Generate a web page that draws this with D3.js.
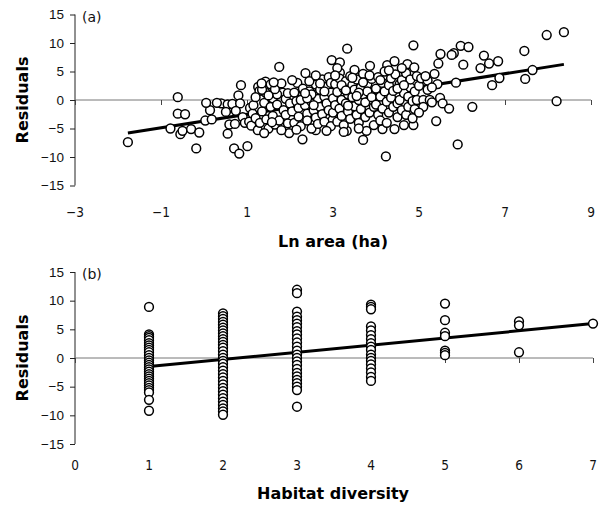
<!DOCTYPE html>
<html><head><meta charset="utf-8">
<script src="https://cdn.jsdelivr.net/npm/d3@7"></script>
<style>body{margin:0;background:#fff}</style>
</head><body>
<script>
// Panel (a): Ln area (ha) vs residuals
const areaPoints = [
[-1.77,-7.4],[-0.61,0.5],[-0.61,-2.4],[-0.44,-2.5],[-0.78,-5.0],[-0.55,-6.0],[-0.5,-5.4],[-0.3,-5.1],[-0.11,-5.7],[-0.18,-8.5],
[0.03,-3.6],[0.14,-1.8],[0.05,-0.5],[0.4,-0.6],[0.55,-0.75],[0.66,-0.7],[0.18,-3.4],[0.51,-2.1],[0.55,-5.9],[0.7,-8.5],
[0.82,-9.4],[0.8,0.8],[0.84,-0.6],[0.59,-4.3],[0.72,-4.2],[0.74,-1.9],[0.86,2.6],[0.3,-0.5],[0.9,-3.0],[0.95,-4.0],
[1.01,-8.1],[1.07,-1.4],[1.13,-2.4],[1.26,2.3],[1.43,3.2],[1.55,2.75],[1.29,1.6],[1.43,1.3],[1.83,1.3],[1.75,5.8],[1.98,-5.8],
[1.05,-3.8],[1.1,-4.5],[1.15,-0.9],[1.2,-3.2],[1.25,-5.3],[1.3,-4.0],[1.35,-2.0],[1.4,-0.5],[1.45,-3.4],[1.5,-5.0],
[1.55,-1.2],[1.6,0.3],[1.6,-2.8],[1.65,-4.3],[1.7,1.0],[1.7,-0.8],[1.75,-3.6],[1.8,-5.3],[1.85,-1.8],[1.9,0.2],
[1.9,-2.6],[1.95,-4.1],[1.2,0.5],[1.35,1.8],[1.5,0.8],[1.65,1.9],[1.8,2.9],[1.95,1.2],[1.4,-5.8],[1.58,-3.9],
[1.34,2.9],[1.62,3.1],
[2.17,3.0],[2.36,4.7],[2.29,-6.9],[2.6,-5.3],[2.97,7.0],[2.99,-3.5],
[2.0,-0.6],[2.05,-2.0],[2.1,1.3],[2.1,-4.0],[2.15,-0.2],[2.2,-1.4],[2.2,-2.9],[2.25,-4.6],[2.3,0.8],[2.3,2.0],
[2.35,-0.9],[2.4,-2.4],[2.4,-3.6],[2.45,1.5],[2.5,-0.3],[2.5,-5.0],[2.55,0.9],[2.55,-1.8],[2.6,2.7],[2.6,-3.1],
[2.65,0.2],[2.65,-4.2],[2.7,1.8],[2.7,-1.2],[2.75,3.6],[2.75,-2.5],[2.8,0.6],[2.8,-3.8],[2.85,2.3],[2.85,-0.6],
[2.9,4.0],[2.9,-1.8],[2.95,1.3],[2.95,-4.6],[2.05,3.5],[2.45,3.3],[2.25,0.0],[2.6,4.3],[2.85,-5.4],[2.15,-5.2],[2.5,1.0],[2.8,1.5],
[2.4,0.3],[2.7,2.9],[2.55,-0.9],[2.95,3.0],[2.35,1.2],
[3.33,9.0],[3.16,6.6],[3.16,4.8],[3.32,-5.4],[3.7,-7.0],[3.78,-5.4],[3.86,6.0],
[3.0,0.3],[3.0,-2.2],[3.05,2.8],[3.05,-0.9],[3.1,1.4],[3.1,-3.8],[3.15,3.8],[3.15,-1.5],[3.2,0.0],[3.2,-2.8],
[3.25,2.0],[3.25,-4.4],[3.3,3.3],[3.3,-0.6],[3.35,1.0],[3.35,-2.0],[3.4,4.2],[3.4,-3.3],[3.45,0.5],[3.45,2.6],
[3.5,-1.1],[3.5,1.8],[3.55,3.6],[3.55,-2.6],[3.6,0.0],[3.6,-4.0],[3.65,2.2],[3.65,-1.6],[3.7,1.0],[3.7,4.6],
[3.75,-0.4],[3.75,-3.0],[3.8,2.8],[3.8,1.5],[3.85,-2.2],[3.9,0.5],[3.9,3.7],[3.95,-1.2],[3.95,-4.4],[3.1,5.6],
[3.25,-5.6],[3.5,5.3],[3.6,-5.0],[3.35,-1.0],
[3.2,2.6],[3.45,3.9],[3.6,1.3],[3.3,1.7],[3.85,4.3],[3.05,4.3],[3.7,3.1],[3.55,0.7],
[4.23,-9.9],[4.26,6.1],[4.43,6.8],[4.73,6.3],[4.89,5.7],[4.87,9.6],[4.43,-5.1],[4.15,-5.1],[4.87,-4.4],[4.65,-4.4],
[4.0,2.0],[4.0,-0.8],[4.05,4.0],[4.05,-2.6],[4.1,0.6],[4.1,-3.6],[4.15,3.0],[4.15,-1.5],[4.2,1.5],[4.2,5.0],
[4.25,-0.3],[4.3,2.6],[4.3,-2.2],[4.35,3.8],[4.35,0.4],[4.4,-1.2],[4.4,1.6],[4.45,4.5],[4.5,-0.6],[4.5,-3.0],
[4.55,2.8],[4.55,0.0],[4.6,3.5],[4.6,-1.8],[4.65,1.2],[4.7,4.7],[4.7,-2.6],[4.75,0.6],[4.75,-1.2],[4.8,2.2],
[4.8,3.6],[4.85,-0.2],[4.9,1.5],[4.9,-1.6],[4.95,4.2],[4.95,0.0],[4.25,-4.0],[4.6,5.6],[4.85,-3.2],
[4.1,3.5],[4.5,2.0],[4.3,5.2],[4.65,2.6],
[5.5,8.07],[5.45,6.4],[5.36,4.6],[5.43,2.8],[5.4,-3.7],[5.49,0.35],[5.55,-0.6],[5.7,-1.5],[5.81,8.2],[5.76,7.9],
[5.97,9.5],[6.03,6.2],[5.86,3.04],[5.0,2.5],[5.05,3.8],[5.1,0.0],[5.1,-1.2],[5.2,1.8],[5.2,3.4],[5.25,0.0],
[5.3,-0.4],[5.3,2.2],[5.0,-2.2],[5.15,4.2],[5.9,-7.8],
[6.15,9.3],[6.24,-1.2],[6.43,5.6],[6.51,7.8],[6.63,6.4],[6.84,6.8],[6.87,3.86],[6.7,2.6],[7.45,8.6],[7.47,3.7],
[7.64,5.26],[7.97,11.4],[8.37,11.9],[8.2,-0.2]
];
const areaFit = [[-1.77,-5.8],[8.37,6.25]];
const areaTicks = [-3,-1,1,3,5,7,9];
const residualTicks = [-15,-10,-5,0,5,10,15];

// Panel (b): habitat diversity vs residuals
const habitatX = [1,2,3,4,5,6,7];
const habitatResiduals = [
  [8.9,4.1,3.8,3.5,3.1,2.6,2.2,1.8,1.4,1.0,0.5,0.0,-0.4,-0.8,-1.2,-1.6,-2.0,-2.4,-2.8,-3.2,-3.6,-4.0,-4.4,-4.8,-5.2,-5.6,-6.0,-7.3,-9.2],
  [7.8,7.3,6.8,6.3,5.8,5.3,4.8,4.3,3.8,3.3,2.8,2.3,1.8,1.2,0.6,0.0,-0.5,-1.0,-1.6,-2.2,-2.8,-3.4,-4.0,-4.6,-5.2,-5.8,-6.4,-7.0,-7.6,-8.2,-8.8,-9.3,-9.9],
  [11.9,11.3,8.1,7.2,6.6,6.0,5.4,4.7,4.1,3.4,2.7,2.0,1.3,0.6,0.0,-0.6,-1.2,-1.9,-2.6,-3.2,-3.8,-4.4,-5.0,-5.6,-8.5],
  [9.3,8.9,8.5,5.5,4.8,4.0,3.3,2.6,2.0,1.4,0.6,0.0,-0.5,-1.1,-1.8,-2.5,-3.3,-4.0],
  [9.5,6.6,4.4,3.8,1.3,0.9,0.5],
  [6.4,5.7,1.0],
  [6.0]
];
const habitatFit = [[1,-1.5],[7,6.0]];
const habitatTicks = [0,1,2,3,4,5,6,7];

const W = 608, H = 509;
const svg = d3.select("body").append("svg").attr("width", W).attr("height", H)
  .style("font-family", "'DejaVu Sans Condensed','DejaVu Sans',sans-serif");

function fmt(v){ return v < 0 ? "\u2212" + Math.abs(v) : String(v); }

function panel(cfg){
  const g = svg.append("g");
  const x = d3.scaleLinear().domain(cfg.xdom).range([75, cfg.xr]);
  const y = d3.scaleLinear().domain([-15, 15]).range([cfg.yb, cfg.yt]);
  const ya = d3.axisLeft(y).tickValues(residualTicks).tickSize(5).tickPadding(6).tickFormat(fmt);
  const gy = g.append("g").attr("transform", `translate(75,0)`).call(ya);
  gy.select(".domain").attr("stroke", "#222").attr("stroke-width", 1).attr("d", `M0,${y(15)}V${y(-15)}`);
  gy.selectAll(".tick line").attr("stroke", "#222");
  gy.selectAll("text").attr("font-size", 13.5).attr("fill", "#111");
  const xa = d3.axisBottom(x).tickValues(cfg.ticks).tickSize(5).tickFormat("");
  const gx = g.append("g").attr("transform", `translate(0,${y(0)})`).call(xa);
  gx.select(".domain").attr("stroke", "#777").attr("stroke-width", 1).attr("d", `M${x(cfg.xdom[0])},0H${x(cfg.xdom[1])}`);
  gx.selectAll(".tick line").attr("stroke", "#444");
  g.selectAll(".xlab").data(cfg.ticks).enter().append("text")
    .attr("x", d => x(d)).attr("y", cfg.labY).attr("text-anchor", "middle")
    .attr("font-size", 13.5).attr("fill", "#111").text(fmt);
  g.append("line").attr("x1", x(cfg.fit[0][0])).attr("y1", y(cfg.fit[0][1]))
    .attr("x2", x(cfg.fit[1][0])).attr("y2", y(cfg.fit[1][1]))
    .attr("stroke", "#000").attr("stroke-width", 3);
  g.selectAll("circle").data(cfg.points).enter().append("circle")
    .attr("cx", d => x(d[0])).attr("cy", d => y(d[1])).attr("r", 4.4)
    .attr("fill", "#fff").attr("stroke", "#000").attr("stroke-width", 1.5);
  g.append("text").attr("x", 82).attr("y", cfg.yt + 7).attr("font-size", 14).attr("fill", "#111")
    .style("font-family", "'DejaVu Sans',sans-serif").text(cfg.tag);
  g.append("text").attr("x", 333).attr("y", cfg.titleY).attr("text-anchor", "middle")
    .attr("font-size", 16).attr("font-weight", "bold").style("font-family", "'DejaVu Sans',sans-serif").text(cfg.xtitle);
  g.append("text").attr("transform", `translate(28,${(cfg.yt + cfg.yb) / 2}) rotate(-90)`)
    .attr("text-anchor", "middle").attr("font-size", 16).attr("font-weight", "bold")
    .style("font-family", "'DejaVu Sans',sans-serif").text("Residuals");
}

panel({xdom: [-3, 9], xr: 591, yt: 14.5, yb: 185.5, ticks: areaTicks, labY: 217,
  fit: areaFit, points: areaPoints, tag: "(a)", xtitle: "Ln area (ha)", titleY: 247});

const habitatPoints = [];
habitatX.forEach((hx, i) => habitatResiduals[i].forEach(v => habitatPoints.push([hx, v])));
panel({xdom: [0, 7], xr: 593, yt: 272, yb: 444, ticks: habitatTicks, labY: 470,
  fit: habitatFit, points: habitatPoints, tag: "(b)", xtitle: "Habitat diversity", titleY: 499});
</script>
</body></html>
